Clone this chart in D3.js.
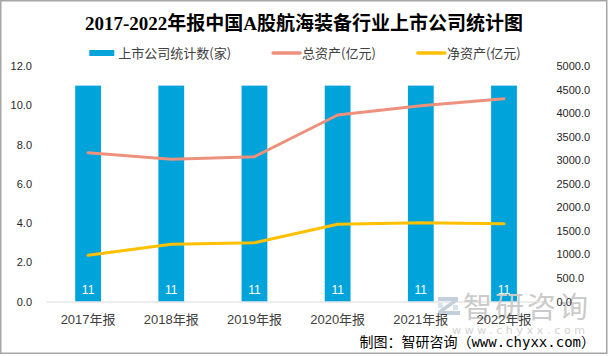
<!DOCTYPE html>
<html><head><meta charset="utf-8">
<script src="https://cdn.jsdelivr.net/npm/d3@7"></script>
<style>
html,body{margin:0;padding:0;background:#fff;}
svg{display:block;}
</style></head>
<body>
<svg id="c" width="608" height="356"></svg>
<script>
const categories = ["2017年报","2018年报","2019年报","2020年报","2021年报","2022年报"];
const companyCount = [11,11,11,11,11,11];
const totalAssets = [3159,3019,3074,3960,4157,4306];
const netAssets = [981,1214,1248,1639,1673,1652];
const leftTicks = [0,2,4,6,8,10,12];
const rightTicks = [0,500,1000,1500,2000,2500,3000,3500,4000,4500,5000];
const seriesNames = ["上市公司统计数(家)","总资产(亿元)","净资产(亿元)"];
const colors = ["#00A3DA","#EE917C","#FFC000"];
const titleText = "2017-2022年报中国A股航海装备行业上市公司统计图";
const sourceText = "制图：智研咨询（www.chyxx.com）";

const svg = d3.select("#c");
svg.append("rect").attr("x",0.75).attr("y",0.75).attr("width",606).attr("height",352.5)
  .attr("fill","#fff").attr("stroke","#a6a6a6").attr("stroke-width",1.5);

const x = d3.scaleBand().domain(categories).range([46.5,545.6]).paddingInner(0.69).paddingOuter(0.345);
const yL = d3.scaleLinear().domain([0,12]).range([301.5,66]);
const yR = d3.scaleLinear().domain([0,5000]).range([301.5,66]);
const cx = d => x(d) + x.bandwidth()/2;

// title
svg.append("text").attr("x",304).attr("y",30).attr("text-anchor","middle")
  .attr("font-family","'Liberation Serif','Times New Roman','Noto Sans CJK SC',serif")
  .attr("font-weight","bold").attr("font-size",19).attr("fill","#000").text(titleText);

// bars
svg.append("g").selectAll("rect").data(categories).join("rect")
  .attr("x",d=>x(d)).attr("width",x.bandwidth())
  .attr("y",(d,i)=>yL(companyCount[i])).attr("height",(d,i)=>yL(0)-yL(companyCount[i]))
  .attr("fill",colors[0]);

// baseline
svg.append("line").attr("x1",46.5).attr("x2",545.6).attr("y1",302).attr("y2",302)
  .attr("stroke","#d9d9d9").attr("stroke-width",1);

// watermark
const wm = svg.append("g");
wm.append("path").attr("d","M438,297 h20 v4 l-14,10 h16 v4 h-22 v-4 l14,-10 h-14 z").attr("fill","#c4cfdc");
wm.append("rect").attr("x",438).attr("y",303).attr("width",5).attr("height",5).attr("fill","#d6e4f0");
wm.append("rect").attr("x",453).attr("y",305).attr("width",5).attr("height",5).attr("fill","#d6e4f0");
wm.append("text").attr("x",463).attr("y",318).attr("font-family","'Noto Sans CJK SC',sans-serif")
  .attr("font-size",29).attr("fill","#cbcbcb").attr("textLength",125).text("智研咨询");
wm.append("text").attr("x",452).attr("y",334).attr("font-family","'DejaVu Sans',sans-serif")
  .attr("font-size",11).attr("fill","#d2d2d2").attr("textLength",133).text("www.chyxx.com");

// bar value labels
svg.append("g").selectAll("text").data(categories).join("text")
  .attr("x",d=>cx(d)).attr("y",293.5).attr("text-anchor","middle")
  .attr("font-family","'Liberation Sans',Arial,sans-serif").attr("font-size",12)
  .attr("fill","#fff").text((d,i)=>companyCount[i]);

// lines
const lineT = d3.line().x((d,i)=>cx(categories[i])).y(d=>yR(d));
svg.append("path").datum(totalAssets).attr("d",lineT).attr("fill","none")
  .attr("stroke",colors[1]).attr("stroke-width",3).attr("stroke-linejoin","round").attr("stroke-linecap","round");
svg.append("path").datum(netAssets).attr("d",lineT).attr("fill","none")
  .attr("stroke",colors[2]).attr("stroke-width",3).attr("stroke-linejoin","round").attr("stroke-linecap","round");

// axes
const fmt = d3.format(".1f");
const gl = svg.append("g").attr("transform","translate(35,0)")
  .call(d3.axisLeft(yL).tickValues(leftTicks).tickFormat(fmt).tickSize(0).tickPadding(3));
const gr = svg.append("g").attr("transform","translate(553,0)")
  .call(d3.axisRight(yR).tickValues(rightTicks).tickFormat(fmt).tickSize(0).tickPadding(3.5));
[gl,gr].forEach(g=>{
  g.select(".domain").remove();
  g.selectAll("text").attr("font-family","'Liberation Sans',Arial,sans-serif").attr("font-size",11).attr("fill","#262626");
});
const gx = svg.append("g").attr("transform","translate(0,302)")
  .call(d3.axisBottom(x).tickSize(0).tickPadding(13));
gx.select(".domain").remove();
gx.selectAll("text").attr("font-family","'Liberation Sans','Noto Sans CJK SC',sans-serif")
  .attr("font-size",13).attr("fill","#404040");

// legend
const lg = svg.append("g");
const items = lg.selectAll("g").data(seriesNames).join("g");
items.append("text").attr("x",29).attr("y",57.5)
  .attr("font-family","'Noto Sans CJK SC',sans-serif").attr("font-size",13).attr("fill","#404040")
  .text(d=>d);
items.each(function(d,i){
  const g = d3.select(this);
  if(i===0) g.append("rect").attr("x",0).attr("y",50).attr("width",25).attr("height",6).attr("fill",colors[0]);
  else g.append("line").attr("x1",0).attr("x2",27).attr("y1",53).attr("y2",53)
    .attr("stroke",colors[i]).attr("stroke-width",3.5).attr("stroke-linecap","round");
});
let widths = [];
items.each(function(){ widths.push(this.getBBox().width); });
const gap = 42;
const total = d3.sum(widths) + gap*(widths.length-1);
let pos = 305 - total/2;
items.each(function(d,i){ d3.select(this).attr("transform",`translate(${pos},0)`); pos += widths[i] + gap; });

// source
svg.append("text").attr("x",595).attr("y",347).attr("text-anchor","end")
  .attr("font-family","'DejaVu Sans Mono','Noto Sans CJK SC',monospace").attr("font-size",14)
  .attr("fill","#000").text(sourceText);
</script>
</body></html>
